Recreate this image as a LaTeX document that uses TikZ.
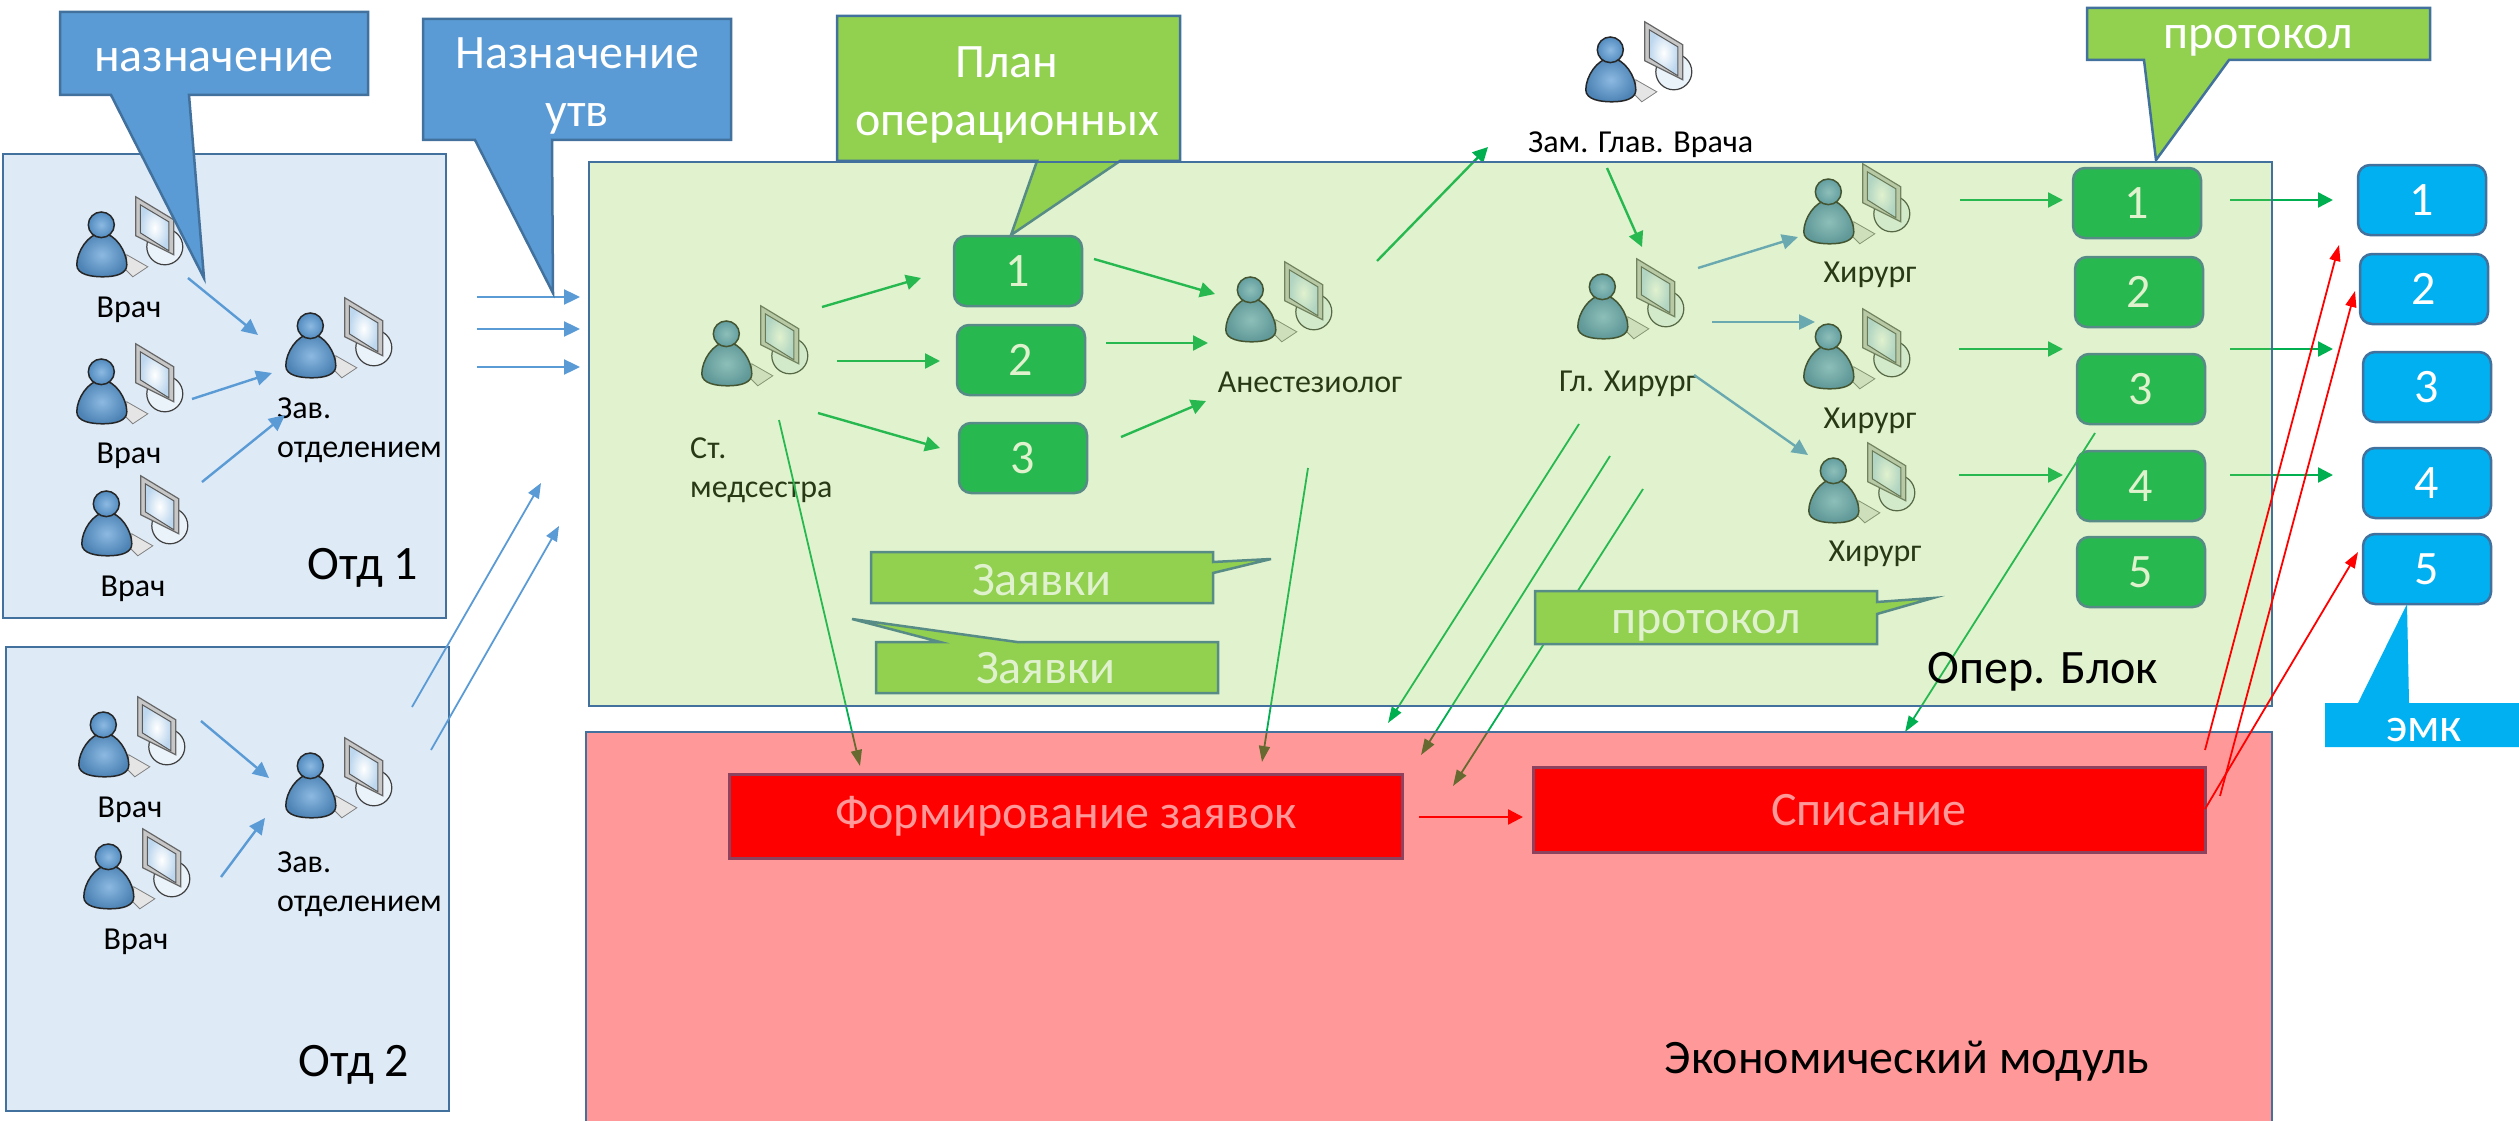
\documentclass[tikz,border=0pt]{standalone}
\usepackage{fontspec}
\setmainfont{Carlito}
\usetikzlibrary{arrows.meta}
\definecolor{edgeblue}{HTML}{41719C}
\definecolor{calloutblue}{HTML}{5B9BD5}
\definecolor{paleblue}{HTML}{DEEAF6}
\definecolor{calloutgreen}{HTML}{92D050}
\definecolor{boxgreen}{HTML}{00B050}
\definecolor{boxcyan}{HTML}{00B0F0}
\tikzset{
    usericon/.pic={
        \draw[draw=black!75, fill=white!88!calloutblue, line width=1.2pt] (87,50) ellipse [x radius=18, y radius=18];
        \draw[draw=black!60, fill=black!22, line width=1.2pt] (58,0) -- (96,23) -- (96,58) -- (58,39) -- cycle;
        \draw[draw=black!65, line width=1pt, inner color=white, outer color=calloutblue!40] (62.5,8) -- (91,25) -- (91,54) -- (62.5,36) -- cycle;
        \draw[draw=black!50, fill=black!10, line width=0.8pt] (49,58) -- (70,70) -- (55,80) -- (48,73) -- cycle;
        \draw[draw=black!85, line width=1.5pt, inner color=calloutblue!70, outer color=calloutblue!85!black] (24,36) .. controls (10,37) and (-1,55) .. (-1,68) .. controls (-1,78) and (14,80) .. (25,80) .. controls (38,80) and (49,77) .. (49,68) .. controls (49,55) and (38,37) .. (24,36) -- cycle;
        \draw[draw=black!85, line width=1.5pt, inner color=calloutblue!70, outer color=calloutblue!90!black] (23.5,28) ellipse [x radius=13, y radius=12.8];
    },
    person/.style={minimum width=104pt, minimum height=80pt, inner sep=0pt},
    plabel/.style={font=\fontsize{32}{39}\selectfont, inner sep=0pt, align=left},
    bigcaption/.style={font=\fontsize{48}{56}\selectfont, inner sep=0pt},
    calloutfont/.style={font=\fontsize{48}{58}\selectfont, text=white, inner sep=0pt, align=center},
    bluecallout/.style={draw=edgeblue, fill=calloutblue, line width=2.5pt},
    greencallout/.style={draw=edgeblue, fill=calloutgreen, line width=2.5pt},
    numbox/.style={draw=edgeblue, line width=2.5pt, rounded corners=12pt, minimum width=128pt, minimum height=70pt, inner sep=0pt, text=white, font=\fontsize{48}{50}\selectfont},
    greenbox/.style={numbox, fill=boxgreen},
    cyanbox/.style={numbox, fill=boxcyan},
    redbox/.style={draw=edgeblue, fill=red, line width=3pt, inner sep=0pt, text=white, font=\fontsize{48}{56}\selectfont},
    zone/.style={draw=edgeblue, line width=2.5pt, inner sep=0pt},
    blueline/.style={draw=calloutblue, line width=2.4pt, -{Triangle[length=16pt,width=15pt]}},
    thinblue/.style={draw=calloutblue, line width=1.8pt, -{Triangle[length=15pt,width=12pt]}},
    greenline/.style={draw=boxgreen, line width=2.4pt, -{Triangle[length=15pt,width=15pt]}},
    thingreen/.style={draw=boxgreen, line width=1.8pt, -{Triangle[length=16pt,width=11pt]}},
    redline/.style={draw=red, line width=1.8pt, -{Triangle[length=16pt,width=11pt]}},
}
\newcommand{\staff}[3]{
    \node[person] (#1) at (#2,#3) {};
    \pic at (#1.north west) {usericon};
}

\begin{document}
\begin{tikzpicture}[x=1pt, y=-1pt]
    \useasboundingbox (0,0) rectangle (2519,1121);

    \node[zone, fill=paleblue, minimum width=443pt, minimum height=464pt] (otd1) at (224.5,386) {};
    \node[zone, fill=paleblue, minimum width=443pt, minimum height=464pt] (otd2) at (227.5,879) {};

    \staff{doc1}{130}{237}
    \staff{doc2}{130}{384}
    \staff{doc3}{135}{516}
    \staff{head1}{339}{338}
    \staff{doc4}{132}{737}
    \staff{doc5}{137}{869}
    \staff{head2}{339}{778}
    \staff{nurse}{755}{346}
    \staff{anest}{1279}{302}
    \staff{zam}{1639}{62}
    \staff{glav}{1631}{299}
    \staff{surg1}{1857}{204}
    \staff{surg2}{1857}{349}
    \staff{surg3}{1862}{483}

    \node[plabel] (doc1text) at (129,310) {Врач};
    \node[plabel] (doc2text) at (129,456) {Врач};
    \node[plabel] (doc3text) at (133,589) {Врач};
    \node[plabel] (doc4text) at (130,810) {Врач};
    \node[plabel] (doc5text) at (136,942) {Врач};
    \node[plabel, anchor=west] (head1text) at (277,430) {Зав.\\отделением};
    \node[plabel, anchor=west] (head2text) at (277,884) {Зав.\\отделением};
    \node[plabel, anchor=west] (nursetext) at (690,470) {Ст.\\медсестра};
    \node[plabel] (anesttext) at (1310,382) {Анестезиолог};
    \node[plabel, anchor=west] (zamtext) at (1528,145) {Зам. Глав. Врача};
    \node[plabel, anchor=west] (glavtext) at (1559,384) {Гл. Хирург};
    \node[plabel] (surg1text) at (1870,275) {Хирург};
    \node[plabel] (surg2text) at (1870,421) {Хирург};
    \node[plabel] (surg3text) at (1875,554) {Хирург};

    \node[greenbox] (plan1) at (1018,271) {1};
    \node[greenbox] (plan2) at (1021,360) {2};
    \node[greenbox] (plan3) at (1023,458) {3};
    \node[greenbox] (prot1) at (2137,203) {1};
    \node[greenbox] (prot2) at (2139,292) {2};
    \node[greenbox] (prot3) at (2141,389) {3};
    \node[greenbox] (prot4) at (2141,486) {4};
    \node[greenbox] (prot5) at (2141,572) {5};
    \node[cyanbox] (emk1) at (2422,200) {1};
    \node[cyanbox] (emk2) at (2424,289) {2};
    \node[cyanbox] (emk3) at (2427,387) {3};
    \node[cyanbox] (emk4) at (2427,483) {4};
    \node[cyanbox] (emk5) at (2427,569) {5};

    \node[redbox, minimum width=673pt, minimum height=84pt] (form) at (1066,816) {Формирование заявок};
    \node[redbox, minimum width=672pt, minimum height=85pt] (spis) at (1869,810) {Списание};

    \draw[greencallout] (871,552) -- (1213,552) -- (1213,562) -- (1271,559) -- (1213,573) -- (1213,603) -- (871,603) -- cycle;
    \node[calloutfont] (zayav1) at (1042,580) {Заявки};
    \draw[greencallout] (876,642) -- (940,642) -- (852,619) -- (1017,642) -- (1218,642) -- (1218,693) -- (876,693) -- cycle;
    \node[calloutfont] (zayav2) at (1046,668) {Заявки};

    \draw[blueline] ([shift={(58,41)}]doc1.center) -- ([shift={(-81,-3)}]head1.center);
    \draw[blueline] ([shift={(62,15)}]doc2.center) -- ([shift={(-67,35)}]head1.center);
    \draw[blueline] ([shift={(67,-34)}]doc3.center) -- ([shift={(-54,77)}]head1.center);
    \draw[blueline] ([shift={(69,-16)}]doc4.center) -- ([shift={(-70,0)}]head2.center);
    \draw[blueline] ([shift={(84,8)}]doc5.center) -- ([shift={(-74,40)}]head2.center);
    \draw[blueline] ([shift={(138,-41)}]head1.center) -- ([shift={(-175,-49)}]nurse.center);
    \draw[blueline] ([shift={(138,-9)}]head1.center) -- ([shift={(-175,-17)}]nurse.center);
    \draw[blueline] ([shift={(138,29)}]head1.center) -- ([shift={(-175,21)}]nurse.center);
    \draw[thinblue] ([shift={(73,-71)}]head2.center) -- ([shift={(-214,137)}]nurse.center);
    \draw[thinblue] ([shift={(92,-28)}]head2.center) -- ([shift={(-196,180)}]nurse.center);

    \draw[greenline] ([shift={(67,-39)}]nurse.center) -- ([shift={(-97,7)}]plan1.center);
    \draw[greenline] ([shift={(82,15)}]nurse.center) -- ([shift={(-81,1)}]plan2.center);
    \draw[greenline] ([shift={(63,67)}]nurse.center) -- ([shift={(-83,-10)}]plan3.center);
    \draw[greenline] ([shift={(76,-12)}]plan1.center) -- ([shift={(-64,-8)}]anest.center);
    \draw[greenline] ([shift={(85,-17)}]plan2.center) -- ([shift={(-71,41)}]anest.center);
    \draw[greenline] ([shift={(98,-21)}]plan3.center) -- ([shift={(-73,99)}]anest.center);
    \draw[greenline] ([shift={(98,-41)}]anest.center) -- ([shift={(-151,85)}]zam.center);
    \draw[greenline] ([shift={(-32,106)}]zam.center) -- ([shift={(11,-52)}]glav.center);
    \draw[blueline] ([shift={(67,-31)}]glav.center) -- ([shift={(-59,33)}]surg1.center);
    \draw[blueline] ([shift={(81,23)}]glav.center) -- ([shift={(-42,-27)}]surg2.center);
    \draw[blueline] ([shift={(63,76)}]glav.center) -- ([shift={(-54,-28)}]surg3.center);
    \draw[greenline] ([shift={(103,-4)}]surg1.center) -- ([shift={(-74,-3)}]prot1.center);
    \draw[greenline] ([shift={(102,0)}]surg2.center) -- ([shift={(-78,-40)}]prot3.center);
    \draw[greenline] ([shift={(97,-8)}]surg3.center) -- ([shift={(-78,-11)}]prot4.center);
    \draw[greenline] ([shift={(93,-3)}]prot1.center) -- ([shift={(-89,0)}]emk1.center);
    \draw[greenline] ([shift={(89,-40)}]prot3.center) -- ([shift={(-94,-38)}]emk3.center);
    \draw[greenline] ([shift={(89,-11)}]prot4.center) -- ([shift={(-94,-8)}]emk4.center);
    \draw[thingreen] ([shift={(24,74)}]nurse.center) -- ([shift={(-206,-50)}]form.center);
    \draw[thingreen] ([shift={(29,166)}]anest.center) -- ([shift={(196,-54)}]form.center);
    \draw[thingreen] ([shift={(-52,125)}]glav.center) -- ([shift={(322,-93)}]form.center);
    \draw[thingreen] ([shift={(-21,157)}]glav.center) -- ([shift={(355,-61)}]form.center);
    \draw[thingreen] ([shift={(12,190)}]glav.center) -- ([shift={(387,-30)}]form.center);
    \draw[thingreen] ([shift={(-46,44)}]prot3.center) -- ([shift={(36,-78)}]spis.center);
    \draw[greenline, draw=red] ([shift={(353,1)}]form.center) -- ([shift={(-346,7)}]spis.center);

    \draw[greencallout] (1535,591) -- (1877,591) -- (1877,602) -- (1933,598) -- (1877,614) -- (1877,644) -- (1535,644) -- cycle;
    \node[calloutfont] (prot2note) at (1706,626) {протокол};

    \draw[bluecallout] (60,12) -- (368,12) -- (368,95) -- (189,95) -- (204,278) -- (111,95) -- (60,95) -- cycle;
    \node[calloutfont] (nazn) at (214,60) {назначение};
    \draw[bluecallout] (423,19) -- (731,19) -- (731,140) -- (552,140) -- (553,293) -- (475,140) -- (423,140) -- cycle;
    \node[calloutfont] (naznutv) at (577,86) {Назначение\\утв};
    \draw[greencallout] (837,16) -- (1180,16) -- (1180,161) -- (1120,161) -- (1011,235) -- (1037,161) -- (837,161) -- cycle;
    \node[calloutfont] (plan) at (1007,95) {План\\операционных};
    \draw[greencallout] (2087,8) -- (2430,8) -- (2430,60) -- (2229,60) -- (2156,160) -- (2144,60) -- (2087,60) -- cycle;
    \node[calloutfont] (prot) at (2258,41) {протокол};

    \node[zone, fill=calloutgreen, fill opacity=0.28, minimum width=1683pt, minimum height=544pt] (oper) at (1430.5,434) {};
    \node[zone, fill=red, fill opacity=0.4, minimum width=1686pt, minimum height=398pt] (econ) at (1429,931) {};

    \draw[redline] ([shift={(336,-60)}]spis.center) -- ([shift={(-83,45)}]emk1.center);
    \draw[redline] ([shift={(351,-14)}]spis.center) -- ([shift={(-69,2)}]emk2.center);
    \draw[redline] ([shift={(336,-1)}]spis.center) -- ([shift={(-69,-17)}]emk5.center);

    \fill[boxcyan] (2325,703) -- (2358,703) -- (2407,604) -- (2409,703) -- (2525,703) -- (2525,747) -- (2325,747) -- cycle;
    \node[calloutfont] (emktext) at (2424,730) {эмк};

    \node[bigcaption] (otd1text) at (363,568) {Отд 1};
    \node[bigcaption] (otd2text) at (354,1065) {Отд 2};
    \node[bigcaption] (opertext) at (2043,672) {Опер. Блок};
    \node[bigcaption] (econtext) at (1907,1061) {Экономический модуль};
\end{tikzpicture}
\end{document}
